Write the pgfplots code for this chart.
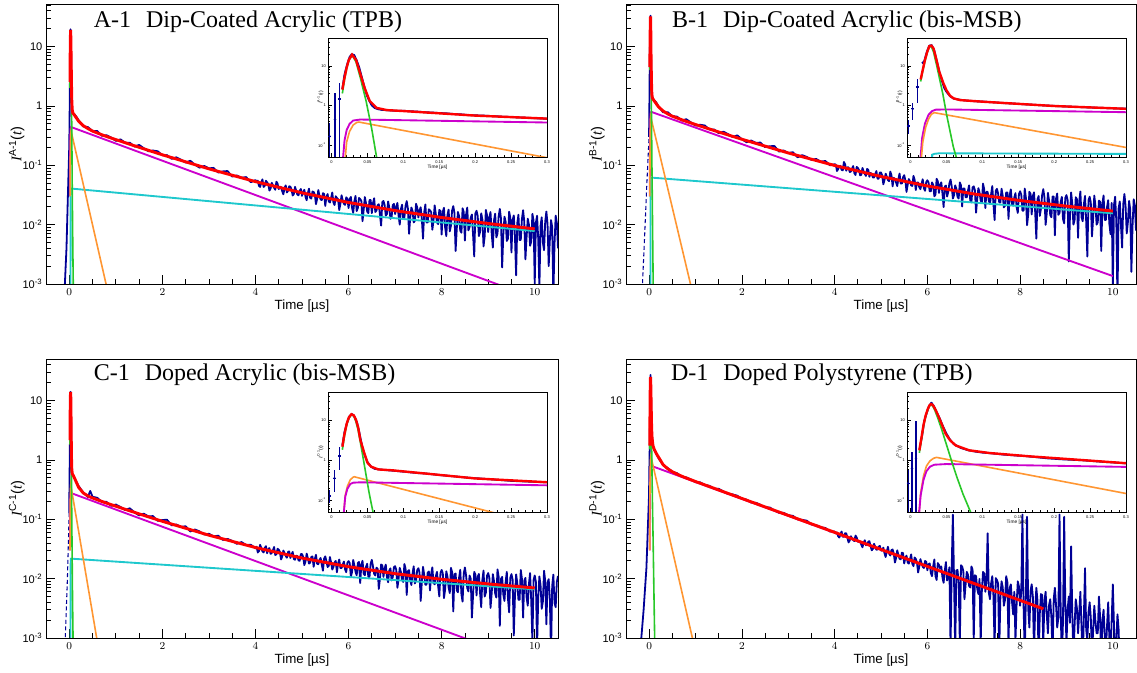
\documentclass[border=0pt]{standalone}
\usepackage{pgfplots}
\pgfplotsset{compat=1.18}
\usepackage{pgfplotstable}
\usepackage{fontspec}
\setmainfont{Liberation Sans}
\newfontfamily\serif{Liberation Serif}
\definecolor{datablue}{RGB}{0,0,150}
\definecolor{fitred}{RGB}{255,0,0}
\definecolor{fitmag}{RGB}{204,0,204}
\definecolor{fitcyan}{RGB}{30,200,205}
\definecolor{fitorange}{RGB}{255,150,50}
\definecolor{fitgreen}{RGB}{40,200,40}

\tikzset{
 dat/.style={datablue, line width=1.35pt, line join=round},
 fred/.style={fitred, line width=2.2pt},
 fmag/.style={fitmag, line width=1.4pt},
 fcyan/.style={fitcyan, line width=1.4pt},
 fora/.style={fitorange, line width=1.2pt},
 fgre/.style={fitgreen, line width=1.2pt},
 ired/.style={fitred, line width=1.8pt},
 idat/.style={datablue, line width=1.4pt, line join=round},
}
\pgfplotsset{scale only axis, tick pos=left, tick align=inside}

\newcommand{\ylab}[1]{{\serif\itshape I}\textsuperscript{#1}({\serif\itshape t})}

% ---------------- Panel A ----------------
\pgfplotstableread[row sep=\\]{t v\\
-0.1 0.0008\\ -0.06 0.004\\ -0.03 0.03\\ -0.003 0.17\\ 0.005 0.44\\ 0.011 1.45\\ 0.018 6\\ 0.025 16.5\\ 0.028 19.5\\ 0.035 13.5\\ 0.042 5.2\\ 0.05 1.8\\ 0.06 0.86\\ 0.08 0.74\\ 0.1 0.74\\ 0.15 0.66\\
0.2 0.575\\ 0.3 0.450\\ 0.4 0.440\\ 0.5 0.376\\ 0.6 0.378\\ 0.7 0.313\\ 0.8 0.320\\ 0.9 0.293\\ 1.0 0.257\\ 1.1 0.273\\ 1.2 0.240\\ 1.3 0.240\\ 1.4 0.207\\ 1.5 0.220\\ 1.6 0.194\\ 1.7 0.172\\ 1.8 0.177\\ 1.9 0.172\\ 2.0 0.147\\ 2.1 0.148\\ 2.2 0.128\\ 2.3 0.136\\ 2.4 0.124\\ 2.5 0.111\\ 2.6 0.119\\ 2.7 0.102\\ 2.8 0.091\\ 2.9 0.0974\\ 3.0 0.0887\\ 3.1 0.0903\\ 3.2 0.0756\\ 3.3 0.0788\\ 3.4 0.0799\\ 3.5 0.0645\\ 3.6 0.0672\\ 3.7 0.0615\\ 3.8 0.0632\\ 3.9 0.0518\\ 4.0 0.0562\\
4.025 0.0539\\ 4.05 0.0549\\ 4.075 0.0451\\ 4.10 0.0431\\ 4.125 0.0515\\ 4.15 0.0578\\ 4.175 0.0431\\ 4.20 0.0451\\ 4.225 0.0549\\ 4.25 0.0515\\
4.275 0.0484\\ 4.30 0.0374\\ 4.325 0.0405\\ 4.35 0.0506\\ 4.375 0.0462\\ 4.40 0.0418\\ 4.425 0.0387\\ 4.45 0.0528\\ 4.475 0.0493\\ 4.50 0.0396\\
4.525 0.0435\\ 4.55 0.0427\\ 4.575 0.0363\\ 4.60 0.0324\\ 4.625 0.0415\\ 4.65 0.0458\\ 4.675 0.0348\\ 4.70 0.0371\\ 4.725 0.0442\\ 4.75 0.0435\\
4.775 0.0391\\ 4.80 0.0309\\ 4.825 0.0327\\ 4.85 0.0433\\ 4.875 0.0373\\ 4.90 0.0320\\ 4.925 0.0312\\ 4.95 0.0369\\ 4.975 0.0398\\ 5.00 0.0305\\
5.025 0.0354\\ 5.05 0.0386\\ 5.075 0.0296\\ 5.10 0.0258\\ 5.125 0.0338\\ 5.15 0.0403\\ 5.175 0.0283\\ 5.20 0.0274\\ 5.225 0.0361\\ 5.25 0.0354\\
5.275 0.0323\\ 5.30 0.0221\\ 5.325 0.0270\\ 5.35 0.0382\\ 5.375 0.0309\\ 5.40 0.0265\\ 5.425 0.0259\\ 5.45 0.0338\\ 5.475 0.0329\\ 5.50 0.0206\\
5.525 0.0295\\ 5.55 0.0327\\ 5.575 0.0247\\ 5.60 0.0236\\ 5.625 0.0281\\ 5.65 0.0348\\ 5.675 0.0236\\ 5.70 0.0214\\ 5.725 0.0300\\ 5.75 0.0281\\
5.775 0.0268\\ 5.80 0.0176\\ 5.825 0.0224\\ 5.85 0.0312\\ 5.875 0.0256\\ 5.90 0.0224\\ 5.925 0.0215\\ 5.95 0.0288\\ 5.975 0.0273\\ 6.00 0.0190\\
6.025 0.0270\\ 6.05 0.0293\\ 6.075 0.0191\\ 6.10 0.0158\\ 6.125 0.0248\\ 6.15 0.0304\\ 6.175 0.0169\\ 6.20 0.0191\\ 6.225 0.0281\\ 6.25 0.0270\\
6.275 0.0250\\ 6.30 0.0114\\ 6.325 0.0177\\ 6.35 0.0291\\ 6.375 0.0229\\ 6.40 0.0166\\ 6.425 0.0156\\ 6.45 0.0260\\ 6.475 0.0260\\ 6.50 0.0156\\
6.525 0.0230\\ 6.55 0.0278\\ 6.575 0.0163\\ 6.60 0.0173\\ 6.625 0.0211\\ 6.65 0.0221\\ 6.675 0.0144\\ 6.70 0.0096\\ 6.725 0.0240\\ 6.75 0.0250\\
6.775 0.0214\\ 6.80 0.0142\\ 6.825 0.0151\\ 6.85 0.0246\\ 6.875 0.0196\\ 6.90 0.0125\\ 6.925 0.0134\\ 6.95 0.0214\\ 6.975 0.0223\\ 7.00 0.0151\\
7.025 0.0199\\ 7.05 0.0232\\ 7.075 0.0141\\ 7.10 0.0100\\ 7.125 0.0183\\ 7.15 0.0216\\ 7.175 0.0125\\ 7.20 0.0133\\ 7.225 0.0208\\ 7.25 0.0249\\
7.275 0.0186\\ 7.30 0.0070\\ 7.325 0.0132\\ 7.35 0.0194\\ 7.375 0.0171\\ 7.40 0.0109\\ 7.425 0.0116\\ 7.45 0.0225\\ 7.475 0.0194\\ 7.50 0.0132\\
7.525 0.0174\\ 7.55 0.0196\\ 7.575 0.0123\\ 7.60 0.0058\\ 7.625 0.0160\\ 7.65 0.0218\\ 7.675 0.0109\\ 7.70 0.0109\\ 7.725 0.0181\\ 7.75 0.0174\\
7.775 0.0163\\ 7.80 0.0082\\ 7.825 0.0116\\ 7.85 0.0211\\ 7.875 0.0150\\ 7.90 0.0109\\ 7.925 0.0102\\ 7.95 0.0177\\ 7.975 0.0170\\ 8.00 0.0068\\
8.025 0.0166\\ 8.05 0.0192\\ 8.075 0.0090\\ 8.10 0.0064\\ 8.125 0.0147\\ 8.15 0.0179\\ 8.175 0.0077\\ 8.20 0.0096\\ 8.225 0.0173\\ 8.25 0.0205\\
8.275 0.0157\\ 8.30 0.0036\\ 8.325 0.0085\\ 8.35 0.0163\\ 8.375 0.0139\\ 8.40 0.0079\\ 8.425 0.0073\\ 8.45 0.0188\\ 8.475 0.0163\\ 8.50 0.0054\\
8.525 0.0148\\ 8.55 0.0194\\ 8.575 0.0080\\ 8.60 0.0091\\ 8.625 0.0131\\ 8.65 0.0148\\ 8.675 0.0068\\ 8.70 0.0029\\ 8.725 0.0154\\ 8.75 0.0171\\
8.775 0.0139\\ 8.80 0.0064\\ 8.825 0.0075\\ 8.85 0.0155\\ 8.875 0.0123\\ 8.90 0.0043\\ 8.925 0.0064\\ 8.95 0.0177\\ 8.975 0.0144\\ 9.00 0.0075\\
9.025 0.0133\\ 9.05 0.0163\\ 9.075 0.0071\\ 9.10 0.0041\\ 9.125 0.0117\\ 9.15 0.0153\\ 9.175 0.0061\\ 9.20 0.0071\\ 9.225 0.0138\\ 9.25 0.0184\\
9.275 0.0126\\ 9.30 0.0019\\ 9.325 0.0068\\ 9.35 0.0136\\ 9.375 0.0112\\ 9.40 0.0053\\ 9.425 0.0058\\ 9.45 0.0165\\ 9.475 0.0131\\ 9.50 0.0034\\
9.525 0.0120\\ 9.55 0.0143\\ 9.575 0.0064\\ 9.60 0.0014\\ 9.625 0.0106\\ 9.65 0.0147\\ 9.675 0.0055\\ 9.70 0.0055\\ 9.725 0.0124\\ 9.75 0.0175\\
9.775 0.0113\\ 9.80 0.0026\\ 9.825 0.0061\\ 9.85 0.0126\\ 9.875 0.0100\\ 9.90 0.0044\\ 9.925 0.0052\\ 9.95 0.0152\\ 9.975 0.0117\\ 10.00 0.0010\\
10.025 0.0108\\ 10.05 0.0141\\ 10.075 0.0058\\ 10.10 0.00083\\ 10.125 0.0095\\ 10.15 0.0133\\ 10.175 0.0050\\ 10.20 0.0037\\ 10.225 0.0112\\ 10.25 0.0166\\
10.275 0.0103\\ 10.30 0.0020\\ 10.325 0.0055\\ 10.35 0.0119\\ 10.375 0.0091\\ 10.40 0.00063\\ 10.425 0.0047\\ 10.45 0.0142\\ 10.475 0.0107\\ 10.50 0.0040\\
}\datA
\pgfplotstableread[row sep=\\]{t v\\
0.015 2.5\\ 0.018 5\\ 0.021 9\\ 0.024 14\\ 0.0285 19\\ 0.034 14\\ 0.04 6.2\\ 0.046 2.75\\ 0.053 1.3\\ 0.0626 0.865\\ 0.077 0.76\\ 0.1 0.72\\ 0.2 0.553\\ 0.3 0.464\\ 0.4 0.415\\ 0.5 0.376\\ 0.75 0.315\\ 1 0.270\\ 1.5 0.2005\\ 2 0.150\\ 3 0.0870\\ 4 0.053\\ 5 0.0343\\ 6 0.0236\\ 7 0.01724\\ 8 0.01318\\ 9 0.01044\\ 10 0.00848\\
}\redA
\pgfplotstableread[row sep=\\]{t v\\ 0.015 0.03\\ 0.018 0.13\\ 0.021 0.24\\ 0.025 0.34\\ 0.03 0.415\\ 0.04 0.44\\ 10 0.00058\\}\magA
\pgfplotstableread[row sep=\\]{t v\\ 0.027 0.001\\ 0.03 0.03\\ 0.033 0.04\\ 0.04 0.0405\\ 10 0.0078\\}\cyaA
\pgfplotstableread[row sep=\\]{t v\\ 0.018 0.03\\ 0.021 0.12\\ 0.025 0.22\\ 0.03 0.32\\ 0.035 0.37\\ 0.038 0.38\\ 0.82 0.00079\\}\oraA
\pgfplotstableread[row sep=\\]{t v\\ 0.015 2.0\\ 0.018 4.5\\ 0.021 8.5\\ 0.024 13.5\\ 0.0285 18.5\\ 0.034 12.5\\ 0.040 5\\ 0.048 1.3\\ 0.056 0.25\\ 0.0626 0.05\\ 0.075 0.0048\\ 0.0856 0.001\\ 0.09 0.0005\\}\greA
\pgfplotstableread[row sep=\\]{t v\\
0.015 2.6\\ 0.018 6\\ 0.0215 10.5\\ 0.025 16.5\\ 0.028 19.5\\ 0.0315 18.5\\ 0.035 13.5\\ 0.0385 9\\ 0.042 5.2\\ 0.0455 3\\ 0.049 1.8\\ 0.0525 1.3\\ 0.056 1.0\\ 0.06 0.86\\ 0.065 0.8\\ 0.07 0.77\\ 0.08 0.75\\ 0.09 0.73\\ 0.1 0.73\\ 0.11 0.71\\ 0.12 0.695\\ 0.13 0.67\\ 0.14 0.66\\ 0.15 0.64\\ 0.16 0.63\\ 0.17 0.605\\ 0.18 0.595\\ 0.19 0.57\\ 0.2 0.56\\ 0.21 0.555\\ 0.22 0.54\\ 0.23 0.53\\ 0.24 0.515\\ 0.25 0.51\\ 0.26 0.495\\ 0.27 0.49\\ 0.28 0.475\\ 0.29 0.47\\ 0.3 0.46\\
}\insA
\pgfplotstableread[row sep=\\]{t v ep em\\ -0.0028 0.165 0.205 0.125\\ 0.0047 0.44 1.61 0.40\\ 0.0112 1.45 2.25 1.41\\}\crsA

% ---------------- Panel B ----------------
\pgfplotstableread[row sep=\\]{t v\\ -0.15 0.0008\\ -0.1 0.006\\ -0.05 0.05\\ -0.003 0.3\\}\dashB
\pgfplotstableread[row sep=\\]{t v\\
-0.003 0.3\\ 0.003 0.82\\ 0.009 2.9\\ 0.016 11.4\\ 0.0225 22\\ 0.026 32\\ 0.0295 33\\ 0.033 24\\ 0.0365 13\\ 0.04 7\\ 0.047 2.7\\ 0.055 1.7\\ 0.07 1.38\\ 0.1 1.25\\ 0.15 1.15\\
0.2 0.983\\ 0.3 0.779\\ 0.4 0.783\\ 0.5 0.670\\ 0.6 0.660\\ 0.7 0.566\\ 0.8 0.597\\ 0.9 0.526\\ 1.0 0.466\\ 1.1 0.481\\ 1.2 0.467\\ 1.3 0.400\\ 1.4 0.401\\ 1.5 0.346\\ 1.6 0.368\\ 1.7 0.335\\ 1.8 0.298\\ 1.9 0.319\\ 2.0 0.274\\ 2.1 0.244\\ 2.2 0.261\\ 2.3 0.238\\ 2.4 0.241\\ 2.5 0.202\\ 2.6 0.209\\ 2.7 0.211\\ 2.8 0.170\\ 2.9 0.177\\ 3.0 0.161\\ 3.1 0.166\\ 3.2 0.136\\ 3.3 0.148\\ 3.4 0.138\\ 3.5 0.123\\ 3.6 0.128\\ 3.7 0.115\\ 3.8 0.118\\ 3.9 0.0998\\ 4.0 0.104\\
4.025 0.1023\\ 4.05 0.0800\\ 4.075 0.0856\\ 4.10 0.0967\\ 4.125 0.0977\\ 4.15 0.0837\\ 4.175 0.0818\\ 4.20 0.1135\\ 4.225 0.1042\\ 4.25 0.0809\\
4.275 0.0920\\ 4.30 0.0920\\ 4.325 0.0769\\ 4.35 0.0786\\ 4.375 0.0878\\ 4.40 0.0970\\ 4.425 0.0736\\ 4.45 0.0686\\ 4.475 0.0936\\ 4.50 0.0903\\
4.525 0.0826\\ 4.55 0.0676\\ 4.575 0.0691\\ 4.60 0.0901\\ 4.625 0.0789\\ 4.65 0.0713\\ 4.675 0.0661\\ 4.70 0.0864\\ 4.725 0.0841\\ 4.75 0.0638\\
4.775 0.0743\\ 4.80 0.0709\\ 4.825 0.0621\\ 4.85 0.0621\\ 4.875 0.0709\\ 4.90 0.0797\\ 4.925 0.0594\\ 4.95 0.0594\\ 4.975 0.0756\\ 5.00 0.0756\\
5.025 0.0673\\ 5.05 0.0477\\ 5.075 0.0563\\ 5.10 0.0722\\ 5.125 0.0643\\ 5.15 0.0563\\ 5.175 0.0539\\ 5.20 0.0783\\ 5.225 0.0685\\ 5.25 0.0441\\
5.275 0.0614\\ 5.30 0.0586\\ 5.325 0.0513\\ 5.35 0.0446\\ 5.375 0.0586\\ 5.40 0.0725\\ 5.425 0.0491\\ 5.45 0.0491\\ 5.475 0.0625\\ 5.50 0.0681\\
5.525 0.0560\\ 5.55 0.0356\\ 5.575 0.0468\\ 5.60 0.0585\\ 5.625 0.0534\\ 5.65 0.0458\\ 5.675 0.0448\\ 5.70 0.0662\\ 5.725 0.0570\\ 5.75 0.0382\\
5.775 0.0512\\ 5.80 0.0512\\ 5.825 0.0428\\ 5.85 0.0395\\ 5.875 0.0488\\ 5.90 0.0581\\ 5.925 0.0409\\ 5.95 0.0372\\ 5.975 0.0521\\ 6.00 0.0558\\
6.025 0.0514\\ 6.05 0.0364\\ 6.075 0.0364\\ 6.10 0.0514\\ 6.125 0.0471\\ 6.15 0.0300\\ 6.175 0.0321\\ 6.20 0.0591\\ 6.225 0.0535\\ 6.25 0.0342\\
6.275 0.0475\\ 6.30 0.0515\\ 6.325 0.0337\\ 6.35 0.0198\\ 6.375 0.0436\\ 6.40 0.0455\\ 6.425 0.0297\\ 6.45 0.0356\\ 6.475 0.0495\\ 6.50 0.0574\\
6.525 0.0440\\ 6.55 0.0275\\ 6.575 0.0312\\ 6.60 0.0459\\ 6.625 0.0404\\ 6.65 0.0294\\ 6.675 0.0275\\ 6.70 0.0514\\ 6.725 0.0459\\ 6.75 0.0202\\
6.775 0.0407\\ 6.80 0.0407\\ 6.825 0.0288\\ 6.85 0.0288\\ 6.875 0.0373\\ 6.90 0.0458\\ 6.925 0.0254\\ 6.95 0.0237\\ 6.975 0.0424\\ 7.00 0.0441\\
7.025 0.0380\\ 7.05 0.0159\\ 7.075 0.0269\\ 7.10 0.0412\\ 7.125 0.0349\\ 7.15 0.0254\\ 7.175 0.0238\\ 7.20 0.0491\\ 7.225 0.0396\\ 7.25 0.0190\\
7.275 0.0356\\ 7.30 0.0356\\ 7.325 0.0252\\ 7.35 0.0223\\ 7.375 0.0327\\ 7.40 0.0446\\ 7.425 0.0223\\ 7.45 0.0119\\ 7.475 0.0371\\ 7.50 0.0401\\
7.525 0.0334\\ 7.55 0.0236\\ 7.575 0.0236\\ 7.60 0.0403\\ 7.625 0.0306\\ 7.65 0.0195\\ 7.675 0.0209\\ 7.70 0.0348\\ 7.725 0.0348\\ 7.75 0.0125\\
7.775 0.0313\\ 7.80 0.0392\\ 7.825 0.0222\\ 7.85 0.0209\\ 7.875 0.0287\\ 7.90 0.0339\\ 7.925 0.0196\\ 7.95 0.0157\\ 7.975 0.0326\\ 8.00 0.0365\\
8.025 0.0320\\ 8.05 0.0172\\ 8.075 0.0172\\ 8.10 0.0406\\ 8.125 0.0283\\ 8.15 0.0098\\ 8.175 0.0148\\ 8.20 0.0357\\ 8.225 0.0332\\ 8.25 0.0148\\
8.275 0.0303\\ 8.30 0.0350\\ 8.325 0.0163\\ 8.35 0.0058\\ 8.375 0.0268\\ 8.40 0.0303\\ 8.425 0.0140\\ 8.45 0.0186\\ 8.475 0.0315\\ 8.50 0.0396\\
8.525 0.0287\\ 8.55 0.0099\\ 8.575 0.0155\\ 8.60 0.0343\\ 8.625 0.0254\\ 8.65 0.0144\\ 8.675 0.0133\\ 8.70 0.0298\\ 8.725 0.0298\\ 8.75 0.0066\\
8.775 0.0272\\ 8.80 0.0334\\ 8.825 0.0146\\ 8.85 0.0157\\ 8.875 0.0240\\ 8.90 0.0293\\ 8.925 0.0125\\ 8.95 0.0105\\ 8.975 0.0282\\ 9.00 0.0314\\
9.025 0.0259\\ 9.05 0.0024\\ 9.075 0.0139\\ 9.10 0.0348\\ 9.125 0.0229\\ 9.15 0.0100\\ 9.175 0.0119\\ 9.20 0.0289\\ 9.225 0.0269\\ 9.25 0.0060\\
9.275 0.0247\\ 9.30 0.0361\\ 9.325 0.0133\\ 9.35 0.0114\\ 9.375 0.0219\\ 9.40 0.0304\\ 9.425 0.0114\\ 9.45 0.0029\\ 9.475 0.0257\\ 9.50 0.0295\\
9.525 0.0235\\ 9.55 0.0063\\ 9.575 0.0127\\ 9.60 0.0308\\ 9.625 0.0208\\ 9.65 0.0100\\ 9.675 0.0109\\ 9.70 0.0253\\ 9.725 0.0244\\ 9.75 0.0036\\
9.775 0.0224\\ 9.80 0.0310\\ 9.825 0.0120\\ 9.85 0.0120\\ 9.875 0.0198\\ 9.90 0.0258\\ 9.925 0.0103\\ 9.95 0.0069\\ 9.975 0.0232\\ 10.00 0.00086\\
10.025 0.0213\\ 10.05 0.0295\\ 10.075 0.0115\\ 10.10 0.0005\\ 10.125 0.0189\\ 10.15 0.0246\\ 10.175 0.0098\\ 10.20 0.0041\\ 10.225 0.0221\\ 10.25 0.0328\\
10.275 0.0204\\ 10.30 0.0071\\ 10.325 0.0110\\ 10.35 0.0251\\ 10.375 0.0181\\ 10.40 0.0016\\ 10.425 0.0094\\ 10.45 0.0267\\ 10.475 0.0212\\ 10.50 0.0079\\
}\datB
\pgfplotstableread[row sep=\\]{t v\\
0.014 4.5\\ 0.017 8\\ 0.02 14\\ 0.023 22\\ 0.026 31\\ 0.029 32\\ 0.032 27\\ 0.036 14\\ 0.04 7\\ 0.0457 3.6\\ 0.05 2.4\\ 0.055 1.74\\ 0.06 1.5\\ 0.069 1.36\\ 0.1 1.24\\ 0.2 0.964\\ 0.3 0.82\\ 0.4 0.732\\ 0.5 0.670\\ 0.75 0.565\\ 1 0.485\\ 1.5 0.363\\ 2 0.274\\ 3 0.161\\ 4 0.0991\\ 5 0.0646\\ 6 0.0448\\ 7 0.0329\\ 8 0.02545\\ 9 0.02046\\ 10 0.0169\\
}\redB
\pgfplotstableread[row sep=\\]{t v\\ 0.013 0.03\\ 0.016 0.15\\ 0.02 0.35\\ 0.025 0.58\\ 0.03 0.72\\ 0.035 0.78\\ 0.05 0.79\\ 10 0.00136\\}\magB
\pgfplotstableread[row sep=\\]{t v\\ 0.027 0.001\\ 0.03 0.057\\ 0.033 0.06\\ 0.04 0.062\\ 10 0.0155\\}\cyaB
\pgfplotstableread[row sep=\\]{t v\\ 0.014 0.03\\ 0.017 0.12\\ 0.021 0.28\\ 0.025 0.45\\ 0.029 0.6\\ 0.033 0.655\\ 0.92 0.0008\\}\oraB
\pgfplotstableread[row sep=\\]{t v\\ 0.014 4\\ 0.017 7.5\\ 0.02 13\\ 0.023 21\\ 0.026 30\\ 0.029 30\\ 0.032 22\\ 0.0364 10\\ 0.04 5\\ 0.045 1.9\\ 0.05 0.6\\ 0.055 0.22\\ 0.0595 0.09\\ 0.0635 0.05\\ 0.075 0.006\\ 0.086 0.001\\ 0.09 0.0005\\}\greB
\pgfplotstableread[row sep=\\]{t v\\
0.0159 11.4\\ 0.019 13\\ 0.0225 22\\ 0.026 32\\ 0.0295 33\\ 0.033 24\\ 0.0365 13\\ 0.04 7\\ 0.0435 4.2\\ 0.047 2.7\\ 0.05 2.2\\ 0.055 1.7\\ 0.06 1.48\\ 0.07 1.37\\ 0.08 1.31\\ 0.09 1.27\\ 0.1 1.25\\ 0.11 1.21\\ 0.12 1.18\\ 0.13 1.14\\ 0.14 1.12\\ 0.15 1.09\\ 0.16 1.06\\ 0.17 1.04\\ 0.18 1.01\\ 0.19 0.99\\ 0.2 0.97\\ 0.21 0.95\\ 0.22 0.935\\ 0.23 0.915\\ 0.24 0.9\\ 0.25 0.885\\ 0.26 0.87\\ 0.27 0.86\\ 0.28 0.845\\ 0.29 0.835\\ 0.3 0.825\\
}\insB
\pgfplotstableread[row sep=\\]{t v ep em\\ -0.0033 0.30 0.14 0.11\\ 0.0028 0.82 0.33 0.38\\ 0.0093 2.9 1.7 1.75\\}\crsB

% ---------------- Panel C ----------------
\pgfplotstableread[row sep=\\]{t v\\ -0.09 0.0008\\ -0.04 0.01\\ -0.0025 0.125\\}\dashC
\pgfplotstableread[row sep=\\]{t v\\
-0.0025 0.125\\ 0.004 0.35\\ 0.011 1.26\\ 0.015 2.3\\ 0.018 5\\ 0.0215 8.5\\ 0.025 12.5\\ 0.0285 14\\ 0.032 12\\ 0.0355 8.5\\ 0.039 4.5\\ 0.0425 2.2\\ 0.046 1.3\\ 0.05 0.88\\ 0.06 0.6\\ 0.08 0.55\\ 0.1 0.52\\ 0.15 0.43\\
0.2 0.364\\ 0.3 0.282\\ 0.4 0.237\\ 0.45 0.30\\ 0.5 0.239\\ 0.6 0.230\\ 0.7 0.196\\ 0.8 0.196\\ 0.9 0.168\\ 1.0 0.177\\ 1.1 0.161\\ 1.2 0.143\\ 1.3 0.153\\ 1.4 0.131\\ 1.5 0.116\\ 1.6 0.124\\ 1.7 0.112\\ 1.8 0.113\\ 1.9 0.0941\\ 2.0 0.0970\\ 2.1 0.0981\\ 2.2 0.0789\\ 2.3 0.0817\\ 2.4 0.0745\\ 2.5 0.0762\\ 2.6 0.0622\\ 2.7 0.0672\\ 2.8 0.0624\\ 2.9 0.0552\\ 3.0 0.0571\\ 3.1 0.0514\\ 3.2 0.0529\\ 3.3 0.0448\\ 3.4 0.0467\\ 3.5 0.0432\\ 3.6 0.0385\\ 3.7 0.0413\\ 3.8 0.0368\\ 3.9 0.0372\\ 4.0 0.0324\\
4.025 0.0345\\ 4.05 0.0276\\ 4.075 0.0289\\ 4.10 0.0371\\ 4.125 0.0330\\ 4.15 0.0289\\ 4.175 0.0276\\ 4.20 0.0330\\ 4.225 0.0352\\ 4.25 0.0267\\
4.275 0.0312\\ 4.30 0.0327\\ 4.325 0.0261\\ 4.35 0.0270\\ 4.375 0.0298\\ 4.40 0.0341\\ 4.425 0.0250\\ 4.45 0.0256\\ 4.475 0.0318\\ 4.50 0.0307\\
4.525 0.0282\\ 4.55 0.0210\\ 4.575 0.0236\\ 4.60 0.0297\\ 4.625 0.0269\\ 4.65 0.0241\\ 4.675 0.0225\\ 4.70 0.0282\\ 4.725 0.0287\\ 4.75 0.0223\\
4.775 0.0254\\ 4.80 0.0282\\ 4.825 0.0213\\ 4.85 0.0208\\ 4.875 0.0243\\ 4.90 0.0240\\ 4.925 0.0203\\ 4.95 0.0199\\ 4.975 0.0259\\ 5.00 0.0259\\
5.025 0.0232\\ 5.05 0.0169\\ 5.075 0.0194\\ 5.10 0.0264\\ 5.125 0.0222\\ 5.15 0.0179\\ 5.175 0.0186\\ 5.20 0.0232\\ 5.225 0.0236\\ 5.25 0.0158\\
5.275 0.0213\\ 5.30 0.0252\\ 5.325 0.0178\\ 5.35 0.0175\\ 5.375 0.0204\\ 5.40 0.0223\\ 5.425 0.0171\\ 5.45 0.0136\\ 5.475 0.0217\\ 5.50 0.0237\\
5.525 0.0196\\ 5.55 0.0157\\ 5.575 0.0164\\ 5.60 0.0231\\ 5.625 0.0187\\ 5.65 0.0142\\ 5.675 0.0157\\ 5.70 0.0187\\ 5.725 0.0199\\ 5.75 0.0128\\
5.775 0.0180\\ 5.80 0.0210\\ 5.825 0.0151\\ 5.85 0.0151\\ 5.875 0.0172\\ 5.90 0.0194\\ 5.925 0.0144\\ 5.95 0.0128\\ 5.975 0.0184\\ 6.00 0.0197\\
6.025 0.0183\\ 6.05 0.0107\\ 6.075 0.0130\\ 6.10 0.0206\\ 6.125 0.0168\\ 6.15 0.0130\\ 6.175 0.0114\\ 6.20 0.0183\\ 6.225 0.0191\\ 6.25 0.0084\\
6.275 0.0171\\ 6.30 0.0200\\ 6.325 0.0121\\ 6.35 0.0114\\ 6.375 0.0157\\ 6.40 0.0178\\ 6.425 0.0107\\ 6.45 0.0107\\ 6.475 0.0178\\ 6.50 0.0207\\
6.525 0.0160\\ 6.55 0.0120\\ 6.575 0.0113\\ 6.60 0.0153\\ 6.625 0.0147\\ 6.65 0.0067\\ 6.675 0.0100\\ 6.70 0.0173\\ 6.725 0.0167\\ 6.75 0.0107\\
6.775 0.0149\\ 6.80 0.0172\\ 6.825 0.0106\\ 6.85 0.0087\\ 6.875 0.0137\\ 6.90 0.0149\\ 6.925 0.0093\\ 6.95 0.0106\\ 6.975 0.0156\\ 7.00 0.0162\\
7.025 0.0141\\ 7.05 0.0070\\ 7.075 0.0100\\ 7.10 0.0152\\ 7.125 0.0129\\ 7.15 0.0094\\ 7.175 0.0088\\ 7.20 0.0176\\ 7.225 0.0147\\ 7.25 0.0053\\
7.275 0.0133\\ 7.30 0.0139\\ 7.325 0.0094\\ 7.35 0.0078\\ 7.375 0.0122\\ 7.40 0.0161\\ 7.425 0.0083\\ 7.45 0.0094\\ 7.475 0.0139\\ 7.50 0.0150\\
7.525 0.0126\\ 7.55 0.0042\\ 7.575 0.0089\\ 7.60 0.0158\\ 7.625 0.0116\\ 7.65 0.0079\\ 7.675 0.0079\\ 7.70 0.0126\\ 7.725 0.0132\\ 7.75 0.0063\\
7.775 0.0120\\ 7.80 0.0155\\ 7.825 0.0085\\ 7.85 0.0080\\ 7.875 0.0110\\ 7.90 0.0130\\ 7.925 0.0075\\ 7.95 0.0050\\ 7.975 0.0125\\ 8.00 0.0140\\
8.025 0.0123\\ 8.05 0.0047\\ 8.075 0.0066\\ 8.10 0.0133\\ 8.125 0.0109\\ 8.15 0.0071\\ 8.175 0.0057\\ 8.20 0.0152\\ 8.225 0.0128\\ 8.25 0.0028\\
8.275 0.0118\\ 8.30 0.0122\\ 8.325 0.0063\\ 8.35 0.0059\\ 8.375 0.0104\\ 8.40 0.0141\\ 8.425 0.0054\\ 8.45 0.0041\\ 8.475 0.0122\\ 8.50 0.0154\\
8.525 0.0113\\ 8.55 0.0069\\ 8.575 0.0061\\ 8.60 0.0113\\ 8.625 0.0100\\ 8.65 0.0022\\ 8.675 0.0052\\ 8.70 0.0130\\ 8.725 0.0117\\ 8.75 0.0052\\
8.775 0.0108\\ 8.80 0.0120\\ 8.825 0.0058\\ 8.85 0.0033\\ 8.875 0.0095\\ 8.90 0.0137\\ 8.925 0.0050\\ 8.95 0.0058\\ 8.975 0.0112\\ 9.00 0.0124\\
9.025 0.0103\\ 9.05 0.0032\\ 9.075 0.0056\\ 9.10 0.0119\\ 9.125 0.0091\\ 9.15 0.0056\\ 9.175 0.0048\\ 9.20 0.0143\\ 9.225 0.0107\\ 9.25 0.0016\\
9.275 0.0099\\ 9.30 0.0107\\ 9.325 0.0054\\ 9.35 0.0042\\ 9.375 0.0088\\ 9.40 0.0130\\ 9.425 0.0046\\ 9.45 0.0027\\ 9.475 0.0103\\ 9.50 0.0119\\
9.525 0.0096\\ 9.55 0.0011\\ 9.575 0.0051\\ 9.60 0.0118\\ 9.625 0.0085\\ 9.65 0.0044\\ 9.675 0.0044\\ 9.70 0.0140\\ 9.725 0.0099\\ 9.75 0.0022\\
9.775 0.0092\\ 9.80 0.0103\\ 9.825 0.0049\\ 9.85 0.0035\\ 9.875 0.0081\\ 9.90 0.0124\\ 9.925 0.0042\\ 9.95 0.00085\\ 9.975 0.0095\\ 10.00 0.0113\\
10.025 0.0088\\ 10.05 0.00068\\ 10.075 0.0048\\ 10.10 0.0109\\ 10.125 0.0078\\ 10.15 0.0031\\ 10.175 0.0041\\ 10.20 0.0136\\ 10.225 0.0092\\ 10.25 0.0017\\
10.275 0.0085\\ 10.30 0.0098\\ 10.325 0.0046\\ 10.35 0.00052\\ 10.375 0.0075\\ 10.40 0.0117\\ 10.425 0.0039\\ 10.45 0.0033\\ 10.475 0.0088\\ 10.50 0.0111\\
}\datC
\pgfplotstableread[row sep=\\]{t v\\
0.015 2.15\\ 0.018 4.5\\ 0.021 8\\ 0.024 11.5\\ 0.0276 13.9\\ 0.031 13\\ 0.034 10\\ 0.037 6.5\\ 0.04 3.2\\ 0.045 1.6\\ 0.05 0.85\\ 0.055 0.68\\ 0.065 0.58\\ 0.085 0.55\\ 0.135 0.45\\ 0.2 0.345\\ 0.3 0.277\\ 0.4 0.247\\ 0.5 0.228\\ 0.75 0.193\\ 1 0.1657\\ 1.5 0.1232\\ 2 0.0924\\ 3 0.0539\\ 4 0.0334\\ 5 0.0222\\ 6 0.01587\\ 7 0.01212\\ 8 0.00975\\ 9 0.00814\\ 10 0.00696\\
}\redC
\pgfplotstableread[row sep=\\]{t v\\ 0.016 0.03\\ 0.019 0.12\\ 0.022 0.19\\ 0.026 0.25\\ 0.03 0.27\\ 0.04 0.276\\ 10 0.000364\\}\magC
\pgfplotstableread[row sep=\\]{t v\\ 0.027 0.001\\ 0.03 0.018\\ 0.035 0.0215\\ 0.04 0.0217\\ 10 0.0066\\}\cyaC
\pgfplotstableread[row sep=\\]{t v\\ 0.016 0.03\\ 0.019 0.13\\ 0.022 0.22\\ 0.026 0.32\\ 0.03 0.37\\ 0.0316 0.38\\ 0.61 0.0008\\}\oraC
\pgfplotstableread[row sep=\\]{t v\\ 0.015 1.8\\ 0.018 4\\ 0.021 7.5\\ 0.024 11\\ 0.0276 13.5\\ 0.031 12.5\\ 0.034 9\\ 0.037 5.5\\ 0.04 2.8\\ 0.044 1.1\\ 0.048 0.42\\ 0.052 0.16\\ 0.055 0.085\\ 0.0577 0.05\\ 0.07 0.0045\\ 0.081 0.001\\ 0.085 0.0005\\}\greC
\pgfplotstableread[row sep=\\]{t v\\
0.015 2.3\\ 0.018 5\\ 0.0215 8.5\\ 0.025 12.5\\ 0.0285 14\\ 0.032 12\\ 0.0355 8.5\\ 0.039 4.5\\ 0.0425 2.2\\ 0.046 1.3\\ 0.05 0.88\\ 0.055 0.68\\ 0.06 0.6\\ 0.07 0.57\\ 0.08 0.55\\ 0.09 0.53\\ 0.1 0.51\\ 0.11 0.49\\ 0.12 0.47\\ 0.13 0.46\\ 0.14 0.44\\ 0.15 0.42\\ 0.16 0.405\\ 0.17 0.39\\ 0.18 0.375\\ 0.19 0.36\\ 0.2 0.35\\ 0.21 0.34\\ 0.22 0.33\\ 0.23 0.32\\ 0.24 0.31\\ 0.25 0.30\\ 0.26 0.295\\ 0.27 0.29\\ 0.28 0.285\\ 0.29 0.28\\ 0.3 0.277\\
}\insC
\pgfplotstableread[row sep=\\]{t v ep em\\ -0.0025 0.125 0.053 0.042\\ 0.004 0.35 0.21 0.19\\ 0.011 1.26 0.89 0.7\\}\crsC

% ---------------- Panel D ----------------
\pgfplotstableread[row sep=\\]{t v\\
-0.18 0.0008\\ -0.12 0.003\\ -0.06 0.015\\ -0.003 0.26\\ 0.002 0.61\\ 0.0075 1.08\\ 0.0125 1.9\\ 0.016 4\\ 0.019 9.5\\ 0.022 14\\ 0.0255 22\\ 0.029 27\\ 0.0325 22\\ 0.036 16\\ 0.04 11.5\\ 0.045 7\\ 0.05 4.5\\ 0.06 2.5\\ 0.08 1.75\\ 0.1 1.55\\ 0.15 1.3\\
0.2 1.071\\ 0.3 0.817\\ 0.4 0.728\\ 0.5 0.630\\ 0.6 0.598\\ 0.7 0.521\\ 0.8 0.507\\ 0.9 0.467\\ 1.0 0.421\\ 1.1 0.418\\ 1.2 0.379\\ 1.3 0.365\\ 1.4 0.327\\ 1.5 0.325\\ 1.6 0.294\\ 1.7 0.267\\ 1.8 0.262\\ 1.9 0.249\\ 2.0 0.222\\ 2.1 0.214\\ 2.2 0.191\\ 2.3 0.190\\ 2.4 0.175\\ 2.5 0.159\\ 2.6 0.158\\ 2.7 0.141\\ 2.8 0.128\\ 2.9 0.128\\ 3.0 0.117\\ 3.1 0.114\\ 3.2 0.0997\\ 3.3 0.0977\\ 3.4 0.0946\\ 3.5 0.0814\\ 3.6 0.0798\\ 3.7 0.0733\\ 3.8 0.0713\\ 3.9 0.0620\\ 4.0 0.0620\\
4.025 0.0578\\ 4.05 0.0600\\ 4.075 0.0518\\ 4.10 0.0491\\ 4.125 0.0561\\ 4.15 0.0621\\ 4.175 0.0507\\ 4.20 0.0507\\ 4.225 0.0583\\ 4.25 0.0578\\
4.275 0.0490\\ 4.30 0.0407\\ 4.325 0.0439\\ 4.35 0.0517\\ 4.375 0.0476\\ 4.40 0.0444\\ 4.425 0.0430\\ 4.45 0.0531\\ 4.475 0.0494\\ 4.50 0.0420\\
4.525 0.0416\\ 4.55 0.0419\\ 4.575 0.0372\\ 4.60 0.0337\\ 4.625 0.0404\\ 4.65 0.0443\\ 4.675 0.0365\\ 4.70 0.0372\\ 4.725 0.0419\\ 4.75 0.0427\\
4.775 0.0353\\ 4.80 0.0300\\ 4.825 0.0316\\ 4.85 0.0386\\ 4.875 0.0343\\ 4.90 0.0306\\ 4.925 0.0310\\ 4.95 0.0346\\ 4.975 0.0356\\ 5.00 0.0296\\
5.025 0.0299\\ 5.05 0.0333\\ 5.075 0.0268\\ 5.10 0.0231\\ 5.125 0.0290\\ 5.15 0.0344\\ 5.175 0.0262\\ 5.20 0.0245\\ 5.225 0.0302\\ 5.25 0.0310\\
5.275 0.0264\\ 5.30 0.0187\\ 5.325 0.0221\\ 5.35 0.0300\\ 5.375 0.0252\\ 5.40 0.0216\\ 5.425 0.0211\\ 5.45 0.0274\\ 5.475 0.0269\\ 5.50 0.0180\\
5.525 0.0223\\ 5.55 0.0244\\ 5.575 0.0187\\ 5.60 0.0179\\ 5.625 0.0213\\ 5.65 0.0256\\ 5.675 0.0179\\ 5.70 0.0162\\ 5.725 0.0227\\ 5.75 0.0215\\
5.775 0.0189\\ 5.80 0.0127\\ 5.825 0.0158\\ 5.85 0.0213\\ 5.875 0.0181\\ 5.90 0.0158\\ 5.925 0.0151\\ 5.95 0.0198\\ 5.975 0.0193\\ 6.00 0.0138\\
6.025 0.0175\\ 6.05 0.018\\ 6.075 0.0124\\ 6.10 0.011\\ 6.125 0.0161\\ 6.15 0.021\\ 6.175 0.0110\\ 6.20 0.0095\\ 6.225 0.0183\\ 6.25 0.017\\
6.275 0.0149\\ 6.30 0.016\\ 6.325 0.0105\\ 6.35 0.0085\\ 6.375 0.0136\\ 6.40 0.019\\ 6.425 0.0093\\ 6.45 0.011\\ 6.475 0.0155\\ 6.50 0.0007\\
6.525 0.0158\\ 6.55 0.12\\ 6.575 0.0095\\ 6.60 0.0006\\ 6.625 0.0137\\ 6.65 0.014\\ 6.675 0.0084\\ 6.70 0.0008\\ 6.725 0.0168\\ 6.75 0.016\\
6.775 0.0134\\ 6.80 0.0045\\ 6.825 0.0080\\ 6.85 0.013\\ 6.875 0.0116\\ 6.90 0.0075\\ 6.925 0.0071\\ 6.95 0.016\\ 6.975 0.0142\\ 7.00 0.0009\\
7.025 0.0114\\ 7.05 0.011\\ 7.075 0.0068\\ 7.10 0.0055\\ 7.125 0.0099\\ 7.15 0.0008\\ 7.175 0.0061\\ 7.20 0.013\\ 7.225 0.0122\\ 7.25 0.006\\
7.275 0.0096\\ 7.30 0.058\\ 7.325 0.0058\\ 7.35 0.0045\\ 7.375 0.0083\\ 7.40 0.011\\ 7.425 0.0051\\ 7.45 0.0007\\ 7.475 0.0102\\ 7.50 0.0095\\
7.525 0.0083\\ 7.55 0.0006\\ 7.575 0.0050\\ 7.60 0.009\\ 7.625 0.0072\\ 7.65 0.0035\\ 7.675 0.0044\\ 7.70 0.011\\ 7.725 0.0088\\ 7.75 0.0008\\
7.775 0.0069\\ 7.80 0.008\\ 7.825 0.0041\\ 7.85 0.0025\\ 7.875 0.0060\\ 7.90 0.0009\\ 7.925 0.0037\\ 7.95 0.009\\ 7.975 0.0074\\ 8.00 0.0035\\
8.025 0.0059\\ 8.05 0.12\\ 8.075 0.0035\\ 8.10 0.0005\\ 8.125 0.0051\\ 8.15 0.11\\ 8.175 0.0031\\ 8.20 0.0015\\ 8.225 0.0062\\ 8.25 0.008\\
8.275 0.0050\\ 8.30 0.0006\\ 8.325 0.0030\\ 8.35 0.007\\ 8.375 0.0043\\ 8.40 0.0004\\ 8.425 0.0026\\ 8.45 0.0055\\ 8.475 0.0053\\ 8.50 0.0008\\
8.525 0.0042\\ 8.55 0.006\\ 8.575 0.0025\\ 8.60 0.0012\\ 8.625 0.0036\\ 8.65 0.0045\\ 8.675 0.0022\\ 8.70 0.0005\\ 8.725 0.0045\\ 8.75 0.007\\
8.775 0.0036\\ 8.80 0.0015\\ 8.825 0.0022\\ 8.85 0.12\\ 8.875 0.0031\\ 8.90 0.0004\\ 8.925 0.0019\\ 8.95 0.11\\ 8.975 0.0038\\ 9.00 0.0008\\
9.025 0.0030\\ 9.05 0.005\\ 9.075 0.0018\\ 9.10 0.035\\ 9.125 0.0026\\ 9.15 0.0005\\ 9.175 0.0016\\ 9.20 0.0045\\ 9.225 0.0032\\ 9.25 0.0012\\
9.275 0.0026\\ 9.30 0.006\\ 9.325 0.0015\\ 9.35 0.0004\\ 9.375 0.0022\\ 9.40 0.015\\ 9.425 0.0014\\ 9.45 0.0009\\ 9.475 0.0027\\ 9.50 0.004\\
9.525 0.0022\\ 9.55 0.0005\\ 9.575 0.0013\\ 9.60 0.0035\\ 9.625 0.0019\\ 9.65 0.0012\\ 9.675 0.0012\\ 9.70 0.005\\ 9.725 0.0023\\ 9.75 0.0004\\
9.775 0.0019\\ 9.80 0.003\\ 9.825 0.0011\\ 9.85 0.0006\\ 9.875 0.0016\\ 9.90 0.004\\ 9.925 0.0010\\ 9.95 0.0005\\ 9.975 0.0020\\ 10.00 0.008\\
10.025 0.0016\\ 10.05 0.0004\\ 10.075 0.0009\\ 10.10 0.0025\\ 10.125 0.0014\\ 10.15 0.0003\\
}\datD
\pgfplotstableread[row sep=\\]{t v\\
0.0122 1.74\\ 0.015 3.5\\ 0.018 7.5\\ 0.021 13\\ 0.024 19\\ 0.0265 23.5\\ 0.0285 25\\ 0.031 23.5\\ 0.034 19\\ 0.0375 14\\ 0.042 9\\ 0.0488 4.5\\ 0.055 3.1\\ 0.0629 2.3\\ 0.0817 1.74\\ 0.11 1.49\\ 0.166 1.23\\ 0.237 1.0\\ 0.3 0.829\\ 0.4 0.707\\ 0.5 0.63\\ 0.6 0.575\\ 0.75 0.512\\ 1 0.4316\\ 2 0.2238\\ 3 0.116\\ 4 0.0602\\ 5 0.031\\ 6 0.01607\\ 7 0.00833\\ 8 0.00431\\ 8.5 0.0031\\
}\redD
\pgfplotstableread[row sep=\\]{t v\\ 0.011 0.03\\ 0.014 0.13\\ 0.018 0.32\\ 0.022 0.52\\ 0.027 0.68\\ 0.033 0.76\\ 0.05 0.79\\ 8.5 0.0031\\}\magD
\pgfplotstableread[row sep=\\]{t v\\ 0.011 0.03\\ 0.014 0.15\\ 0.018 0.4\\ 0.022 0.7\\ 0.027 0.95\\ 0.032 1.1\\ 0.036 1.16\\ 0.96 0.0008\\}\oraD
\pgfplotstableread[row sep=\\]{t v\\ 0.0122 1.5\\ 0.015 3.2\\ 0.018 7\\ 0.021 12.5\\ 0.024 18\\ 0.0265 22.5\\ 0.0285 24\\ 0.031 22\\ 0.034 17\\ 0.038 11\\ 0.043 6\\ 0.05 2.4\\ 0.057 0.95\\ 0.065 0.35\\ 0.073 0.14\\ 0.0835 0.05\\ 0.1 0.0075\\ 0.118 0.001\\ 0.122 0.0006\\}\greD
\pgfplotstableread[row sep=\\]{t v\\
0.0125 1.9\\ 0.016 4\\ 0.019 9.5\\ 0.022 14\\ 0.0255 22\\ 0.029 27\\ 0.0325 22\\ 0.036 16\\ 0.04 11.5\\ 0.045 7\\ 0.05 4.5\\ 0.055 3.2\\ 0.06 2.5\\ 0.07 2.0\\ 0.08 1.75\\ 0.09 1.62\\ 0.1 1.53\\ 0.11 1.48\\ 0.12 1.42\\ 0.13 1.36\\ 0.14 1.32\\ 0.15 1.28\\ 0.16 1.25\\ 0.17 1.2\\ 0.18 1.15\\ 0.19 1.1\\ 0.2 1.07\\ 0.21 1.04\\ 0.22 1.02\\ 0.23 1.0\\ 0.24 0.98\\ 0.25 0.95\\ 0.26 0.92\\ 0.27 0.89\\ 0.28 0.87\\ 0.29 0.845\\ 0.3 0.825\\
}\insD
\pgfplotstableread[row sep=\\]{t v ep em\\ -0.0033 0.26 0.29 0.22\\ 0.0019 0.61 0.97 0.57\\ 0.0075 1.08 8.5 1.04\\}\crsD

\begin{document}
\begin{tikzpicture}
\useasboundingbox (0,0) rectangle (852.75pt,504.75pt);

% ===== A =====
\begin{axis}[at={(34.5pt,291.75pt)}, anchor=south west, width=384pt, height=210pt,
  ymode=log, xmin=-0.5, xmax=10.5, ymin=0.001, ymax=52,
  xtick={0,2,4,6,8,10}, minor x tick num=3,
  ytick={0.001,0.01,0.1,1,10},
  yticklabels={10\textsuperscript{-3},10\textsuperscript{-2},10\textsuperscript{-1},1,10},
  minor ytick={0.002,0.003,0.004,0.005,0.006,0.007,0.008,0.009,0.02,0.03,0.04,0.05,0.06,0.07,0.08,0.09,0.2,0.3,0.4,0.5,0.6,0.7,0.8,0.9,2,3,4,5,6,7,8,9,20,30,40,50},
  major tick length=7pt, minor tick length=3.5pt,
  tick style={black, line width=0.5pt}, axis line style={line width=0.6pt},
  tick label style={font=\fontsize{8.3}{9}\selectfont},
  xticklabel style={anchor=north, inner sep=0pt, yshift=-3pt},
  yticklabel style={anchor=east, inner sep=0pt, xshift=-2.5pt},
  xlabel={Time [µs]},
  xlabel style={font=\fontsize{10}{12}\selectfont, at={(rel axis cs:0.5,0)}, anchor=north, inner sep=0pt, yshift=-12pt},
  ylabel={\ylab{A-1}},
  ylabel style={font=\fontsize{11}{12}\selectfont, at={(rel axis cs:-0.057,0.5)}, anchor=center}]
\addplot[dat] table[x=t,y=v]{\datA};
\addplot[fmag] table[x=t,y=v]{\magA};
\addplot[fcyan] table[x=t,y=v]{\cyaA};
\addplot[fora] table[x=t,y=v]{\oraA};
\addplot[fgre] table[x=t,y=v]{\greA};
\addplot[fred] table[x=t,y=v]{\redA};
\node[anchor=base west, inner sep=0pt, font=\serif\fontsize{18}{20}\selectfont] at (rel axis cs:0.093,0.917) {A-1\hspace{0.62em}Dip-Coated Acrylic (TPB)};
\end{axis}
\begin{axis}[at={(246pt,387pt)}, anchor=south west, width=164.25pt, height=89.25pt,
  ymode=log, xmin=-0.005, xmax=0.3, ymin=0.05, ymax=50,
  axis background/.style={fill=white},
  xtick={0,0.05,0.1,0.15,0.2,0.25,0.3}, xticklabels={0,0.05,0.1,0.15,0.2,0.25,0.3}, minor x tick num=4,
  ytick={0.1,1,10}, yticklabels={10\textsuperscript{-1},1,10},
  minor ytick={0.06,0.07,0.08,0.09,0.2,0.3,0.4,0.5,0.6,0.7,0.8,0.9,2,3,4,5,6,7,8,9,20,30,40,50},
  major tick length=3pt, minor tick length=1.5pt,
  tick style={black, line width=0.3pt}, axis line style={line width=0.6pt},
  tick label style={font=\fontsize{3}{3.5}\selectfont},
  xticklabel style={anchor=north, inner sep=0pt, yshift=-2.4pt},
  yticklabel style={anchor=east, inner sep=0pt, xshift=-1.5pt},
  xlabel={Time [µs]},
  xlabel style={font=\fontsize{3.6}{4}\selectfont, at={(rel axis cs:0.5,0)}, anchor=north, inner sep=0pt, yshift=-5.8pt},
  ylabel={\ylab{A-1}},
  ylabel style={font=\fontsize{3.8}{4}\selectfont, at={(rel axis cs:-0.035,0.5)}, anchor=center}]
\addplot[idat] table[x=t,y=v]{\insA};
\addplot[only marks, mark=*, mark size=0.3pt, datablue, line width=1.0pt,
  error bars/.cd, y dir=both, y explicit, x dir=both, x fixed=0.0018, error mark=none,
  error bar style={datablue, line width=1.0pt}] table[x=t,y=v,y error plus=ep,y error minus=em]{\crsA};
\addplot[fmag] table[x=t,y=v]{\magA};
\addplot[fora] table[x=t,y=v]{\oraA};
\addplot[fgre] table[x=t,y=v]{\greA};
\addplot[ired] table[x=t,y=v]{\redA};
\end{axis}

% ===== B =====
\begin{axis}[at={(469.5pt,291.75pt)}, anchor=south west, width=382.5pt, height=210pt,
  ymode=log, xmin=-0.5, xmax=10.5, ymin=0.001, ymax=52,
  xtick={0,2,4,6,8,10}, minor x tick num=3,
  ytick={0.001,0.01,0.1,1,10},
  yticklabels={10\textsuperscript{-3},10\textsuperscript{-2},10\textsuperscript{-1},1,10},
  minor ytick={0.002,0.003,0.004,0.005,0.006,0.007,0.008,0.009,0.02,0.03,0.04,0.05,0.06,0.07,0.08,0.09,0.2,0.3,0.4,0.5,0.6,0.7,0.8,0.9,2,3,4,5,6,7,8,9,20,30,40,50},
  major tick length=7pt, minor tick length=3.5pt,
  tick style={black, line width=0.5pt}, axis line style={line width=0.6pt},
  tick label style={font=\fontsize{8.3}{9}\selectfont},
  xticklabel style={anchor=north, inner sep=0pt, yshift=-3pt},
  yticklabel style={anchor=east, inner sep=0pt, xshift=-2.5pt},
  xlabel={Time [µs]},
  xlabel style={font=\fontsize{10}{12}\selectfont, at={(rel axis cs:0.5,0)}, anchor=north, inner sep=0pt, yshift=-12pt},
  ylabel={\ylab{B-1}},
  ylabel style={font=\fontsize{11}{12}\selectfont, at={(rel axis cs:-0.057,0.5)}, anchor=center}]
\addplot[dat, line width=0.8pt, densely dashed] table[x=t,y=v]{\dashB};
\addplot[dat] table[x=t,y=v]{\datB};
\addplot[fmag] table[x=t,y=v]{\magB};
\addplot[fcyan] table[x=t,y=v]{\cyaB};
\addplot[fora] table[x=t,y=v]{\oraB};
\addplot[fgre] table[x=t,y=v]{\greB};
\addplot[fred] table[x=t,y=v]{\redB};
\node[anchor=base west, inner sep=0pt, font=\serif\fontsize{18}{20}\selectfont] at (rel axis cs:0.090,0.917) {B-1\hspace{0.62em}Dip-Coated Acrylic (bis-MSB)};
\end{axis}
\begin{axis}[at={(680.25pt,387pt)}, anchor=south west, width=164.25pt, height=89.25pt,
  ymode=log, xmin=-0.005, xmax=0.3, ymin=0.05, ymax=50,
  axis background/.style={fill=white},
  xtick={0,0.05,0.1,0.15,0.2,0.25,0.3}, xticklabels={0,0.05,0.1,0.15,0.2,0.25,0.3}, minor x tick num=4,
  ytick={0.1,1,10}, yticklabels={10\textsuperscript{-1},1,10},
  minor ytick={0.06,0.07,0.08,0.09,0.2,0.3,0.4,0.5,0.6,0.7,0.8,0.9,2,3,4,5,6,7,8,9,20,30,40,50},
  major tick length=3pt, minor tick length=1.5pt,
  tick style={black, line width=0.3pt}, axis line style={line width=0.6pt},
  tick label style={font=\fontsize{3}{3.5}\selectfont},
  xticklabel style={anchor=north, inner sep=0pt, yshift=-2.4pt},
  yticklabel style={anchor=east, inner sep=0pt, xshift=-1.5pt},
  xlabel={Time [µs]},
  xlabel style={font=\fontsize{3.6}{4}\selectfont, at={(rel axis cs:0.5,0)}, anchor=north, inner sep=0pt, yshift=-5.8pt},
  ylabel={\ylab{B-1}},
  ylabel style={font=\fontsize{3.8}{4}\selectfont, at={(rel axis cs:-0.035,0.5)}, anchor=center}]
\addplot[idat] table[x=t,y=v]{\insB};
\addplot[only marks, mark=*, mark size=0.3pt, datablue, line width=1.0pt,
  error bars/.cd, y dir=both, y explicit, x dir=both, x fixed=0.0018, error mark=none,
  error bar style={datablue, line width=1.0pt}] table[x=t,y=v,y error plus=ep,y error minus=em]{\crsB};
\addplot[fmag] table[x=t,y=v]{\magB};
\addplot[fcyan] table[x=t,y=v]{\cyaB};
\addplot[fora] table[x=t,y=v]{\oraB};
\addplot[fgre] table[x=t,y=v]{\greB};
\addplot[ired] table[x=t,y=v]{\redB};
\end{axis}

% ===== C =====
\begin{axis}[at={(34.5pt,26.25pt)}, anchor=south west, width=384pt, height=209.25pt,
  ymode=log, xmin=-0.5, xmax=10.5, ymin=0.001, ymax=50,
  xtick={0,2,4,6,8,10}, minor x tick num=3,
  ytick={0.001,0.01,0.1,1,10},
  yticklabels={10\textsuperscript{-3},10\textsuperscript{-2},10\textsuperscript{-1},1,10},
  minor ytick={0.002,0.003,0.004,0.005,0.006,0.007,0.008,0.009,0.02,0.03,0.04,0.05,0.06,0.07,0.08,0.09,0.2,0.3,0.4,0.5,0.6,0.7,0.8,0.9,2,3,4,5,6,7,8,9,20,30,40,50},
  major tick length=7pt, minor tick length=3.5pt,
  tick style={black, line width=0.5pt}, axis line style={line width=0.6pt},
  tick label style={font=\fontsize{8.3}{9}\selectfont},
  xticklabel style={anchor=north, inner sep=0pt, yshift=-3pt},
  yticklabel style={anchor=east, inner sep=0pt, xshift=-2.5pt},
  xlabel={Time [µs]},
  xlabel style={font=\fontsize{10}{12}\selectfont, at={(rel axis cs:0.5,0)}, anchor=north, inner sep=0pt, yshift=-12pt},
  ylabel={\ylab{C-1}},
  ylabel style={font=\fontsize{11}{12}\selectfont, at={(rel axis cs:-0.057,0.5)}, anchor=center}]
\addplot[dat, line width=0.8pt, densely dashed] table[x=t,y=v]{\dashC};
\addplot[dat] table[x=t,y=v]{\datC};
\addplot[fmag] table[x=t,y=v]{\magC};
\addplot[fcyan] table[x=t,y=v]{\cyaC};
\addplot[fora] table[x=t,y=v]{\oraC};
\addplot[fgre] table[x=t,y=v]{\greC};
\addplot[fred] table[x=t,y=v]{\redC};
\node[anchor=base west, inner sep=0pt, font=\serif\fontsize{18}{20}\selectfont] at (rel axis cs:0.093,0.922) {C-1\hspace{0.62em}Doped Acrylic (bis-MSB)};
\end{axis}
\begin{axis}[at={(246pt,120.75pt)}, anchor=south west, width=164.25pt, height=90pt,
  ymode=log, xmin=-0.005, xmax=0.3, ymin=0.05, ymax=50,
  axis background/.style={fill=white},
  xtick={0,0.05,0.1,0.15,0.2,0.25,0.3}, xticklabels={0,0.05,0.1,0.15,0.2,0.25,0.3}, minor x tick num=4,
  ytick={0.1,1,10}, yticklabels={10\textsuperscript{-1},1,10},
  minor ytick={0.06,0.07,0.08,0.09,0.2,0.3,0.4,0.5,0.6,0.7,0.8,0.9,2,3,4,5,6,7,8,9,20,30,40,50},
  major tick length=3pt, minor tick length=1.5pt,
  tick style={black, line width=0.3pt}, axis line style={line width=0.6pt},
  tick label style={font=\fontsize{3}{3.5}\selectfont},
  xticklabel style={anchor=north, inner sep=0pt, yshift=-2.4pt},
  yticklabel style={anchor=east, inner sep=0pt, xshift=-1.5pt},
  xlabel={Time [µs]},
  xlabel style={font=\fontsize{3.6}{4}\selectfont, at={(rel axis cs:0.5,0)}, anchor=north, inner sep=0pt, yshift=-5.8pt},
  ylabel={\ylab{C-1}},
  ylabel style={font=\fontsize{3.8}{4}\selectfont, at={(rel axis cs:-0.035,0.5)}, anchor=center}]
\addplot[idat] table[x=t,y=v]{\insC};
\addplot[only marks, mark=*, mark size=0.3pt, datablue, line width=1.0pt,
  error bars/.cd, y dir=both, y explicit, x dir=both, x fixed=0.0018, error mark=none,
  error bar style={datablue, line width=1.0pt}] table[x=t,y=v,y error plus=ep,y error minus=em]{\crsC};
\addplot[fora] table[x=t,y=v]{\oraC};
\addplot[fmag] table[x=t,y=v]{\magC};
\addplot[fgre] table[x=t,y=v]{\greC};
\addplot[ired] table[x=t,y=v]{\redC};
\end{axis}

% ===== D =====
\begin{axis}[at={(469.5pt,26.25pt)}, anchor=south west, width=382.5pt, height=209.25pt,
  ymode=log, xmin=-0.5, xmax=10.5, ymin=0.001, ymax=50,
  xtick={0,2,4,6,8,10}, minor x tick num=3,
  ytick={0.001,0.01,0.1,1,10},
  yticklabels={10\textsuperscript{-3},10\textsuperscript{-2},10\textsuperscript{-1},1,10},
  minor ytick={0.002,0.003,0.004,0.005,0.006,0.007,0.008,0.009,0.02,0.03,0.04,0.05,0.06,0.07,0.08,0.09,0.2,0.3,0.4,0.5,0.6,0.7,0.8,0.9,2,3,4,5,6,7,8,9,20,30,40,50},
  major tick length=7pt, minor tick length=3.5pt,
  tick style={black, line width=0.5pt}, axis line style={line width=0.6pt},
  tick label style={font=\fontsize{8.3}{9}\selectfont},
  xticklabel style={anchor=north, inner sep=0pt, yshift=-3pt},
  yticklabel style={anchor=east, inner sep=0pt, xshift=-2.5pt},
  xlabel={Time [µs]},
  xlabel style={font=\fontsize{10}{12}\selectfont, at={(rel axis cs:0.5,0)}, anchor=north, inner sep=0pt, yshift=-12pt},
  ylabel={\ylab{D-1}},
  ylabel style={font=\fontsize{11}{12}\selectfont, at={(rel axis cs:-0.057,0.5)}, anchor=center}]
\addplot[dat] table[x=t,y=v]{\datD};
\addplot[fmag] table[x=t,y=v]{\magD};
\addplot[fora] table[x=t,y=v]{\oraD};
\addplot[fgre] table[x=t,y=v]{\greD};
\addplot[fred] table[x=t,y=v]{\redD};
\node[anchor=base west, inner sep=0pt, font=\serif\fontsize{18}{20}\selectfont] at (rel axis cs:0.088,0.922) {D-1\hspace{0.62em}Doped Polystyrene (TPB)};
\end{axis}
\begin{axis}[at={(680.25pt,120.75pt)}, anchor=south west, width=164.25pt, height=90pt,
  ymode=log, xmin=-0.005, xmax=0.3, ymin=0.05, ymax=50,
  axis background/.style={fill=white},
  xtick={0,0.05,0.1,0.15,0.2,0.25,0.3}, xticklabels={0,0.05,0.1,0.15,0.2,0.25,0.3}, minor x tick num=4,
  ytick={0.1,1,10}, yticklabels={10\textsuperscript{-1},1,10},
  minor ytick={0.06,0.07,0.08,0.09,0.2,0.3,0.4,0.5,0.6,0.7,0.8,0.9,2,3,4,5,6,7,8,9,20,30,40,50},
  major tick length=3pt, minor tick length=1.5pt,
  tick style={black, line width=0.3pt}, axis line style={line width=0.6pt},
  tick label style={font=\fontsize{3}{3.5}\selectfont},
  xticklabel style={anchor=north, inner sep=0pt, yshift=-2.4pt},
  yticklabel style={anchor=east, inner sep=0pt, xshift=-1.5pt},
  xlabel={Time [µs]},
  xlabel style={font=\fontsize{3.6}{4}\selectfont, at={(rel axis cs:0.5,0)}, anchor=north, inner sep=0pt, yshift=-5.8pt},
  ylabel={\ylab{D-1}},
  ylabel style={font=\fontsize{3.8}{4}\selectfont, at={(rel axis cs:-0.035,0.5)}, anchor=center}]
\addplot[idat] table[x=t,y=v]{\insD};
\addplot[only marks, mark=*, mark size=0.3pt, datablue, line width=1.0pt,
  error bars/.cd, y dir=both, y explicit, x dir=both, x fixed=0.0018, error mark=none,
  error bar style={datablue, line width=1.0pt}] table[x=t,y=v,y error plus=ep,y error minus=em]{\crsD};
\addplot[fora] table[x=t,y=v]{\oraD};
\addplot[fmag] table[x=t,y=v]{\magD};
\addplot[fgre] table[x=t,y=v]{\greD};
\addplot[ired] table[x=t,y=v]{\redD};
\end{axis}
\end{tikzpicture}
\end{document}
